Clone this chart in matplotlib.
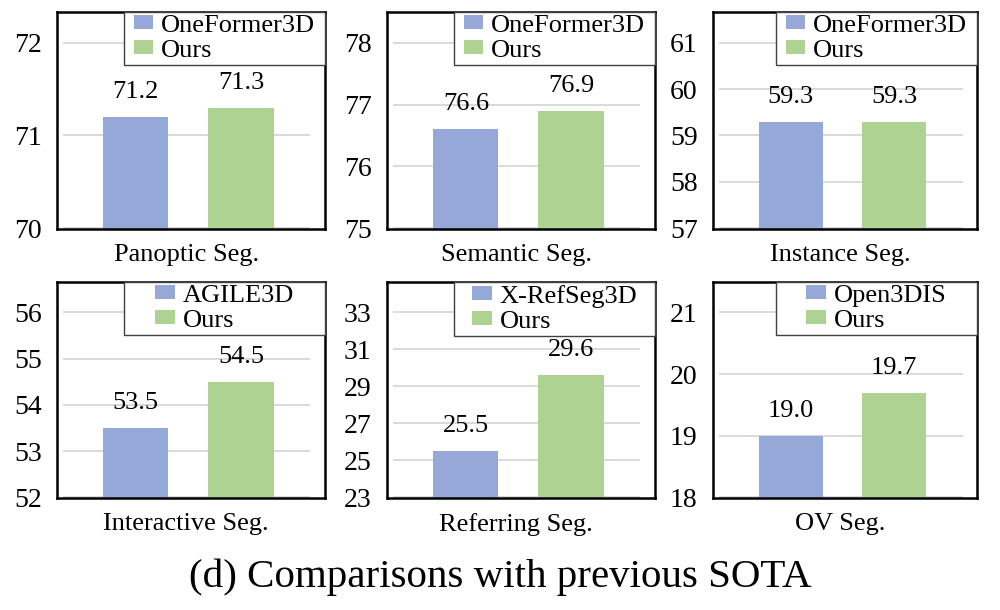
import matplotlib
matplotlib.use('Agg')
import matplotlib.pyplot as plt
import matplotlib.patches as mpatches
import matplotlib.transforms as mtransforms
from matplotlib.legend_handler import HandlerPatch

plt.rcParams['font.family'] = ['Liberation Serif', 'DejaVu Serif']

# data
tasks = ['Panoptic Seg.', 'Semantic Seg.', 'Instance Seg.',
         'Interactive Seg.', 'Referring Seg.', 'OV Seg.']
baselines = ['OneFormer3D', 'OneFormer3D', 'OneFormer3D',
             'AGILE3D', 'X-RefSeg3D', 'Open3DIS']
baseline_scores = [71.2, 76.6, 59.3, 53.5, 25.5, 19.0]
our_scores = [71.3, 76.9, 59.3, 54.5, 29.6, 19.7]
y_ticks = [
    [70, 71, 72],
    [75, 76, 77, 78],
    [57, 58, 59, 60, 61],
    [52, 53, 54, 55, 56],
    [23, 25, 27, 29, 31, 33],
    [18, 19, 20, 21],
]

BLUE = '#95A8D8'
GREEN = '#AED291'
GRID = '#D9D9D9'

W, H = 1000, 610
lefts = [57, 387, 713]
widths = [268, 268, 264]
tops = [12, 282]
heights = [217, 216]
LEG_W = 201  # legend box width in pixels, same for every panel


def square_patch(legend, orig_handle, xdescent, ydescent, width, height, fontsize):
    # small square pushed to the right of the handle box
    s = height
    return mpatches.Rectangle((-xdescent + width - s, -ydescent), s, s)


fig = plt.figure(figsize=(W / 100, H / 100), dpi=100)
legends = []

for i, task in enumerate(tasks):
    row, col = divmod(i, 3)
    ax = fig.add_axes([lefts[col] / W, (H - tops[row] - heights[row]) / H,
                       widths[col] / W, heights[row] / H])
    ticks = y_ticks[i]
    lo, hi = ticks[0], ticks[-1]
    span = hi - lo

    ax.set_xlim(-0.75, 1.80)
    ax.set_ylim(lo - span * 0.004, hi + span * 0.165)
    ax.hlines(ticks, -0.69, 1.66, color=GRID, lw=1.4, zorder=0)

    b1 = ax.bar(0, baseline_scores[i], width=0.62, color=BLUE, zorder=2)
    b2 = ax.bar(1, our_scores[i], width=0.62, color=GREEN, zorder=2)

    for x, v in zip([0, 1], [baseline_scores[i], our_scores[i]]):
        ax.annotate(f'{v:.1f}', (x, v), xytext=(0, 10), textcoords='offset points',
                    ha='center', va='bottom', fontsize=19)

    for s in ax.spines.values():
        s.set_color('black')
        s.set_linewidth(1.8)
    ax.set_xticks([])
    ax.set_yticks(ticks)
    ax.tick_params(axis='y', length=0, pad=11, labelsize=20)

    trans = mtransforms.blended_transform_factory(ax.transData, ax.transAxes)
    ax.text(0.48, -0.07, task, transform=trans, ha='center', va='top', fontsize=19)

    # legend without frame, centred in a fixed-width box drawn by hand below
    leg = ax.legend([b1, b2], [baselines[i], 'Ours'], loc='upper center',
                    bbox_to_anchor=(1 - LEG_W / 2 / widths[col], 1), borderaxespad=0,
                    frameon=False, fontsize=19,
                    handlelength=0.75, handleheight=0.45, handletextpad=0.3,
                    labelspacing=0.12, borderpad=0.1,
                    handler_map={mpatches.Rectangle: HandlerPatch(patch_func=square_patch)})
    leg.set_zorder(6)
    legends.append((ax, leg, widths[col]))

fig.canvas.draw()
for ax, leg, w in legends:
    bb = leg.get_window_extent().transformed(ax.transAxes.inverted())
    x0 = 1 - LEG_W / w
    y0 = bb.y0 - 1 / ax.bbox.height
    ax.add_patch(mpatches.Rectangle((x0, y0), 1 - x0, 1 - y0, transform=ax.transAxes,
                                    facecolor='white', edgecolor='#404040', lw=1.0,
                                    zorder=5, clip_on=False))

fig.text(0.5, 1 - 577 / H, '(d) Comparisons with previous SOTA',
         ha='center', va='center', fontsize=29.5)

fig.savefig('out.png', dpi=100)
